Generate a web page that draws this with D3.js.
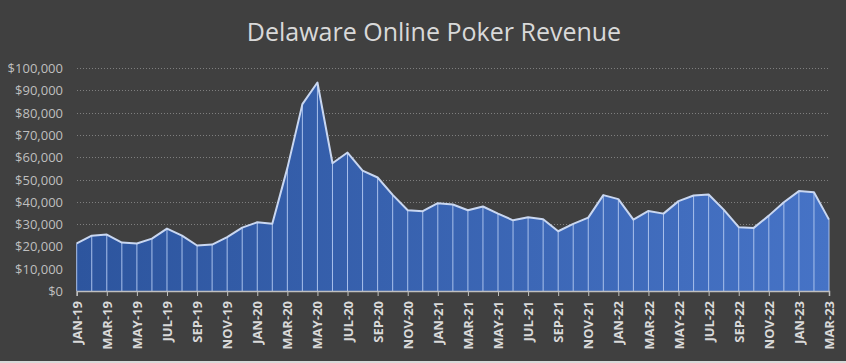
<!DOCTYPE html>
<html>
<head>
<meta charset="utf-8">
<script src="https://cdn.jsdelivr.net/npm/d3@7"></script>
<style>
  body { margin: 0; background: #404040; }
  svg { display: block; }
</style>
</head>
<body>
<div id="container"></div>
<script>
/* CONSTANTS AND GLOBALS */
const width = 846,
  height = 363,
  margin = { top: 68, bottom: 72, left: 77, right: 17 };

// months, Jan 2019 - Mar 2023
const months = [
  "JAN-19","FEB-19","MAR-19","APR-19","MAY-19","JUN-19","JUL-19","AUG-19","SEP-19","OCT-19","NOV-19","DEC-19",
  "JAN-20","FEB-20","MAR-20","APR-20","MAY-20","JUN-20","JUL-20","AUG-20","SEP-20","OCT-20","NOV-20","DEC-20",
  "JAN-21","FEB-21","MAR-21","APR-21","MAY-21","JUN-21","JUL-21","AUG-21","SEP-21","OCT-21","NOV-21","DEC-21",
  "JAN-22","FEB-22","MAR-22","APR-22","MAY-22","JUN-22","JUL-22","AUG-22","SEP-22","OCT-22","NOV-22","DEC-22",
  "JAN-23","FEB-23","MAR-23"
];

// revenue in dollars
const revenue = [
  21400, 24800, 25300, 21700, 21300, 23500, 28000, 24800, 20400, 20800, 24200, 28400,
  30800, 30200, 55100, 83800, 93500, 57300, 62100, 54000, 50900, 43100, 36200, 35800,
  39400, 38800, 36200, 37900, 34700, 31700, 33100, 32200, 26800, 30100, 32900, 43000,
  41200, 32000, 35900, 34700, 40300, 42800, 43300, 36500, 28600, 28300, 33800, 39800,
  44800, 44300, 32000
];

const yTicks = [0, 10000, 20000, 30000, 40000, 50000, 60000, 70000, 80000, 90000, 100000];

const data = months.map((m, i) => ({ month: m, value: revenue[i] }));

const svg = d3.select("#container")
  .append("svg")
  .attr("width", width)
  .attr("height", height)
  .style("background-color", "#404040");

// + SCALES
const xScale = d3.scalePoint()
  .domain(months)
  .range([margin.left - 0.3, width - margin.right]);

const yScale = d3.scaleLinear()
  .domain([0, 100000])
  .range([height - margin.bottom, margin.top]);

// gradient for the area fill
const grad = svg.append("defs").append("linearGradient")
  .attr("id", "fillGrad")
  .attr("x1", "0%").attr("x2", "100%")
  .attr("y1", "0%").attr("y2", "0%");
grad.append("stop").attr("offset", "0%").attr("stop-color", "#2d559e");
grad.append("stop").attr("offset", "100%").attr("stop-color", "#4673c6");

// title
svg.append("text")
  .attr("x", 434)
  .attr("y", 41)
  .attr("text-anchor", "middle")
  .attr("fill", "#d9d9d9")
  .style("font-family", "'Open Sans', sans-serif")
  .style("font-size", "25px")
  .text("Delaware Online Poker Revenue");

// + GRIDLINES
svg.append("g")
  .selectAll("line")
  .data(yTicks.slice(1))
  .join("line")
  .attr("x1", margin.left)
  .attr("x2", width - margin.right + 1)
  .attr("y1", d => Math.round(yScale(d)) + 0.5)
  .attr("y2", d => Math.round(yScale(d)) + 0.5)
  .attr("stroke", "#7f7f7f")
  .attr("stroke-width", 1)
  .attr("stroke-dasharray", "1,2");

// + AREA
const area = d3.area()
  .x(d => xScale(d.month))
  .y0(yScale(0))
  .y1(d => yScale(d.value));

svg.append("path")
  .datum(data)
  .attr("d", area)
  .attr("fill", "url(#fillGrad)");

// drop lines at each month
svg.append("g")
  .selectAll("line")
  .data(data)
  .join("line")
  .attr("x1", d => xScale(d.month))
  .attr("x2", d => xScale(d.month))
  .attr("y1", yScale(0))
  .attr("y2", d => yScale(d.value))
  .attr("stroke", "#a9c1ec")
  .attr("stroke-width", 1);

// outline on top
const line = d3.line()
  .x(d => xScale(d.month))
  .y(d => yScale(d.value));

svg.append("path")
  .datum(data)
  .attr("d", line)
  .attr("fill", "none")
  .attr("stroke", "#c9d7f1")
  .attr("stroke-width", 2)
  .attr("stroke-linejoin", "round");

// + Y AXIS
const yAxis = d3.axisLeft(yScale)
  .tickValues(yTicks)
  .tickSize(0)
  .tickPadding(14)
  .tickFormat(d => "$" + d3.format(",")(d));

svg.append("g")
  .attr("transform", `translate(${margin.left},0)`)
  .call(yAxis)
  .call(g => g.select(".domain").remove())
  .call(g => g.selectAll("text")
    .attr("fill", "#bfbfbf")
    .attr("dy", "0.35em")
    .style("font-family", "'Open Sans', sans-serif")
    .style("font-size", "13px"));

// + X AXIS
const xAxis = d3.axisBottom(xScale)
  .tickValues(months.filter((m, i) => i % 2 === 0))
  .tickSize(5)
  .tickPadding(8);

svg.append("g")
  .attr("transform", `translate(0,${yScale(0)})`)
  .call(xAxis)
  .call(g => g.select(".domain").attr("stroke", "#bfbfbf").attr("stroke-width", 1.5))
  .call(g => g.selectAll(".tick line").attr("stroke", "#bfbfbf"))
  .call(g => g.selectAll("text")
    .attr("fill", "#d9d9d9")
    .attr("transform", "rotate(-90)")
    .attr("text-anchor", "end")
    .attr("x", -10)
    .attr("y", 0)
    .attr("dy", "0.35em")
    .style("font-family", "'Open Sans', sans-serif")
    .style("font-weight", "bold")
    .style("font-size", "13px"));

// bottom edge strip
svg.append("rect")
  .attr("x", 0)
  .attr("y", height - 2)
  .attr("width", width)
  .attr("height", 2)
  .attr("fill", "#d9d9d9");
</script>
</body>
</html>
